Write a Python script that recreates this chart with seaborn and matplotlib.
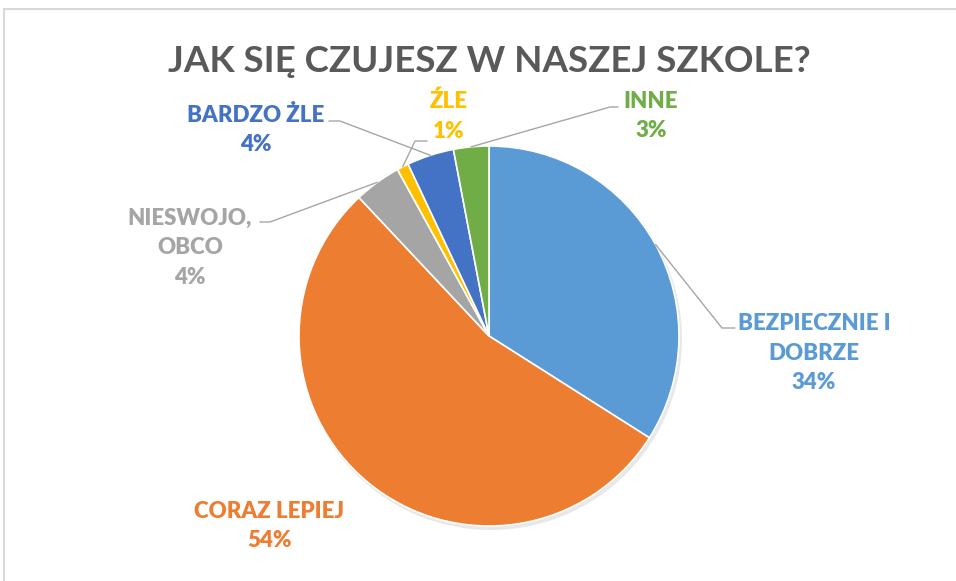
import numpy as np
import pandas as pd
import matplotlib
matplotlib.use("Agg")
import matplotlib.pyplot as plt
import seaborn as sns
from matplotlib.patches import Rectangle, Circle

# data
categories = ["BEZPIECZNIE I\nDOBRZE", "CORAZ LEPIEJ", "NIESWOJO,\nOBCO", "ŹLE", "BARDZO ŻLE", "INNE"]
values = [34, 54, 4, 1, 4, 3]
colors = ["#5B9BD5", "#ED7D31", "#A5A5A5", "#FFC000", "#4472C4", "#70AD47"]
title = "JAK SIĘ CZUJESZ W NASZEJ SZKOLE?"

sns.set_theme(style="white")
plt.rcParams['font.family'] = ['Lato', 'DejaVu Sans']

W, H = 956, 581
fig = plt.figure(figsize=(W / 100, H / 100), dpi=100)
ax = fig.add_axes([0, 0, 1, 1])

cx, cy, r = 489, H - 336, 190

# faint shadow like excel
ax.add_patch(Circle((cx + 2, cy - 3), r + 1, color="#BFBFBF", alpha=0.35, zorder=0, lw=0))

wedges, _ = ax.pie(values, colors=colors, startangle=90, counterclock=False,
                   center=(cx, cy), radius=r,
                   wedgeprops=dict(edgecolor="white", linewidth=1.2))
ax.set_xlim(0, W)
ax.set_ylim(0, H)
ax.set_aspect("equal")
ax.axis("off")

# label centres (pixels from top-left) and leader line stubs
label_pos = [(814, 353), (269, 526), (190, 248), (449, 116), (256, 130), (651, 116)]
leaders = {
    0: [(735, 328), (722, 328)],
    2: [(260, 222), (270, 222)],
    3: [(427, 141), (415, 141)],
    4: [(329, 121), (340, 121)],
    5: [(618, 107), (610, 107)],
}

for i, (cat, val) in enumerate(zip(categories, values)):
    x, y = label_pos[i]
    ax.text(x, H - y, f"{cat}\n{val}%", color=colors[i], fontsize=16,
            fontweight="heavy", ha="center", va="center", linespacing=1.5)
    if i in leaders:
        w = wedges[i]
        mid = np.deg2rad((w.theta1 + w.theta2) / 2)
        ex, ey = cx + r * np.cos(mid), cy + r * np.sin(mid)
        pts = leaders[i]
        xs = [p[0] for p in pts] + [ex]
        ys = [H - p[1] for p in pts] + [ey]
        ax.plot(xs, ys, color="#A6A6A6", lw=1, zorder=3)

ax.text(489, H - 61, title, color="#595959", fontsize=26.5, fontweight="bold",
        ha="center", va="center")

# chart frame (only top and left edges visible)
fig.patches.append(Rectangle((4 / W, -0.1), 1.2, 1.1 - 9 / H, transform=fig.transFigure,
                             fill=False, edgecolor="#D9D9D9", lw=1.5))

fig.savefig("out.png", dpi=100)
